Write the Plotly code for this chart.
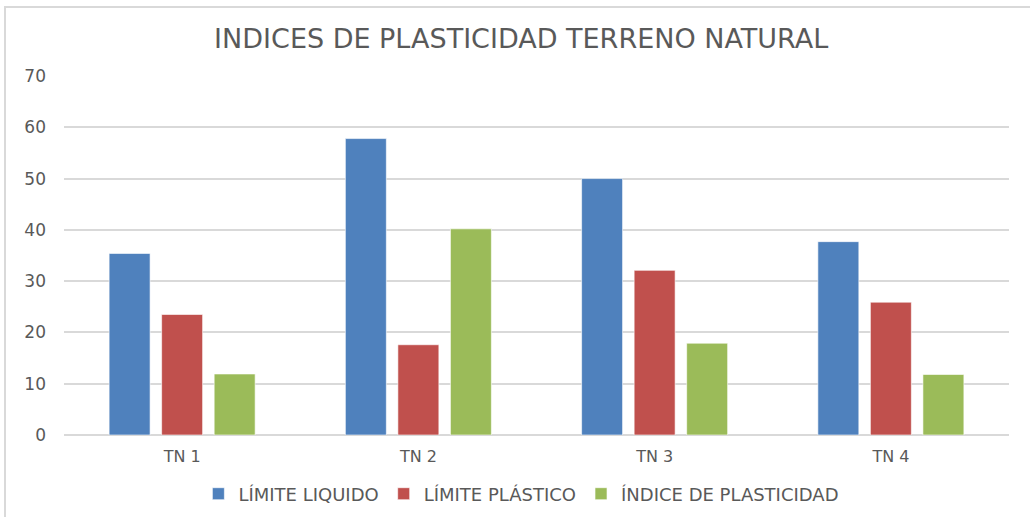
import plotly.graph_objects as go

# Muestras de terreno natural
categorias = ["TN 1", "TN 2", "TN 3", "TN 4"]
limite_liquido = [35.4, 57.8, 50.0, 37.7]
limite_plastico = [23.5, 17.6, 32.1, 25.9]
indice_plasticidad = [11.9, 40.2, 17.9, 11.8]

series = [
    ("LÍMITE LIQUIDO", limite_liquido, "#4F81BD"),
    ("LÍMITE PLÁSTICO", limite_plastico, "#C0504D"),
    ("ÍNDICE DE PLASTICIDAD", indice_plasticidad, "#9BBB59"),
]

W, H = 1030, 517
ML, MR, MT, MB = 64, 21, 76, 82
FUENTE = "DejaVu Sans"
GRIS = "#595959"

fig = go.Figure()
for nombre, valores, color in series:
    fig.add_trace(go.Bar(
        x=categorias, y=valores, name=nombre,
        marker=dict(color=color, line=dict(color="rgba(255,255,255,0.6)", width=1)),
    ))

pw = W - ML - MR
ph = H - MT - MB
# marco del gráfico
fig.add_shape(
    type="rect", xref="paper", yref="paper",
    x0=(5 - ML) / pw, x1=(W + 5 - ML) / pw,
    y0=(H - MB - (H + 5)) / ph, y1=(H - MB - 7) / ph,
    line=dict(color="#D9D9D9", width=2), fillcolor="rgba(0,0,0,0)", layer="below",
)

fig.update_layout(
    width=W, height=H,
    margin=dict(l=ML, r=MR, t=MT, b=MB),
    paper_bgcolor="white", plot_bgcolor="white",
    font=dict(family=FUENTE, color=GRIS, size=15),
    title=dict(text="INDICES DE PLASTICIDAD TERRENO NATURAL",
               x=0.506, xanchor="center", y=1 - 39 / H, yanchor="middle",
               font=dict(size=27, color=GRIS, family=FUENTE)),
    barmode="group", bargap=0.333, bargroupgap=0.22,
    xaxis=dict(showgrid=False, showline=False, ticks="", ticklabelstandoff=10,
               tickfont=dict(size=16), automargin=False),
    yaxis=dict(range=[0, 70], dtick=10, showgrid=True, gridcolor="#D9D9D9",
               gridwidth=2, zeroline=True, zerolinecolor="#D9D9D9", zerolinewidth=2,
               showline=False, ticks="", ticklabelstandoff=17, tickfont=dict(size=17),
               automargin=False),
    legend=dict(orientation="h", x=0.484, xanchor="center",
                yref="container", y=1 - 494 / H, yanchor="middle",
                font=dict(size=18, family=FUENTE), traceorder="normal"),
    showlegend=True,
)

fig.write_html("out.html")
